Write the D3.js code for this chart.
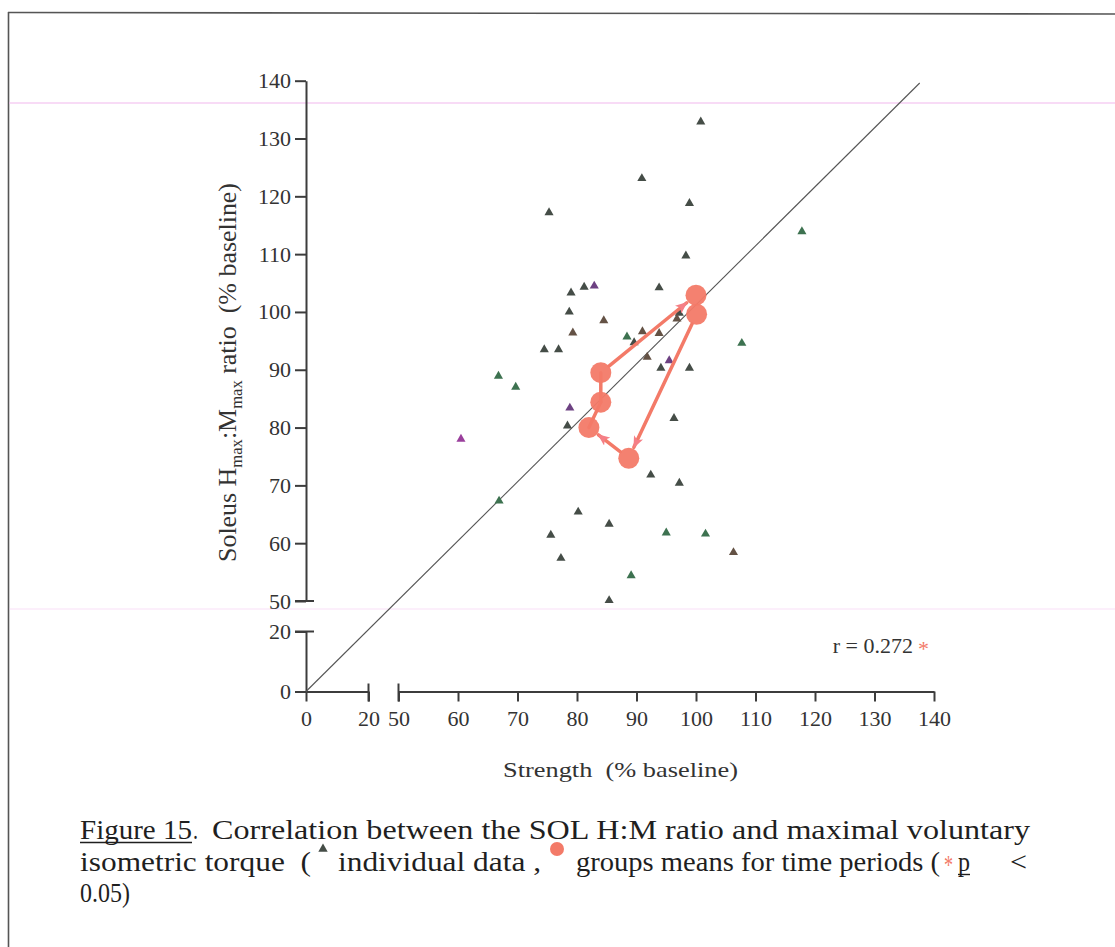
<!DOCTYPE html>
<html><head><meta charset="utf-8">
<script src="https://cdn.jsdelivr.net/npm/d3@7"></script>
<style>
html,body{margin:0;padding:0;background:#fff;}
svg{display:block;}
</style>
</head><body>
<svg id="chart" width="1115" height="947"></svg>
<script>
// Individual subjects: strength and soleus Hmax:Mmax ratio, both as % of baseline
const strength = [90.9, 98.9, 75.3, 117.8, 98.3, 79.0, 81.2, 82.9, 93.8, 78.7,
                  84.5, 97.2, 96.8, 79.3, 88.4, 91.0, 93.8, 89.6, 107.7, 74.5,
                  76.9, 91.8, 95.5, 94.1, 98.9, 66.8, 69.7, 78.8, 96.3, 78.4,
                  60.5, 92.4, 97.2, 66.9, 80.2, 85.4, 75.6, 95.0, 101.6, 106.3,
                  77.3, 89.1, 85.4, 100.8];
const ratio = [123.1, 118.8, 117.2, 113.9, 109.7, 103.3, 104.3, 104.5, 104.2, 100.0,
               98.5, 99.8, 98.8, 96.4, 95.7, 96.6, 96.3, 94.7, 94.6, 93.5,
               93.5, 92.2, 91.6, 90.3, 90.3, 88.9, 87.0, 83.4, 81.6, 80.3,
               78.0, 71.8, 70.4, 67.3, 65.4, 63.3, 61.4, 61.8, 61.6, 58.4,
               57.4, 54.4, 50.1, 132.9];
const cohort = ["A","A","A","B","A","A","A","C","A","A",
                "D","A","D","D","B","D","D","A","B","A",
                "A","D","C","A","A","B","B","C","A","A",
                "E","A","A","B","A","A","A","B","B","D",
                "A","B","A","A"];

// Group means for successive time periods (in order)
const meanStrength = [100.1, 88.7, 82.0, 84.0, 84.0, 100.0];
const meanRatio    = [99.6, 74.7, 80.0, 84.4, 89.5, 102.9];
const stepShowsDirection = [true, true, false, false, true];

// Line of identity, drawn from the origin
const identityFrom = [0, 0];
const identityTo   = [137.6, 139.6];

// Broken axes: lower and upper segments
const xLowTicks  = [0, 20];
const xHighTicks = [50, 60, 70, 80, 90, 100, 110, 120, 130, 140];
const yLowTicks  = [0, 20];
const yHighTicks = [50, 60, 70, 80, 90, 100, 110, 120, 130, 140];
const correlation = "r = 0.272";

const svg = d3.select("#chart");
const serif = "Liberation Serif, Times New Roman, serif";
const ink = "#333";
const coral = "#f37a68";

const x = d3.scaleLinear().domain([0, 20, 50, 140]).range([306, 368.5, 398.5, 934]);
const y = d3.scaleLinear().domain([0, 20, 50, 140]).range([691.5, 631.5, 601, 80.7]);
const xLow  = d3.scaleLinear().domain([0, 20]).range([x(0), x(20)]);
const xHigh = d3.scaleLinear().domain([50, 140]).range([x(50), x(140)]);
const yLow  = d3.scaleLinear().domain([0, 20]).range([y(0), y(20)]);
const yHigh = d3.scaleLinear().domain([50, 140]).range([y(50), y(140)]);

const color = d3.scaleOrdinal()
  .domain(["A", "B", "C", "D", "E"])
  .range(["#454d47", "#3d7250", "#6d4182", "#645245", "#9a3f9c"]);

// page frame
svg.append("line").attr("x1", 8).attr("y1", 12.5).attr("x2", 1115).attr("y2", 14)
  .attr("stroke", "#555").attr("stroke-width", 1.6);
svg.append("line").attr("x1", 8.5).attr("y1", 12).attr("x2", 8.5).attr("y2", 947)
  .attr("stroke", "#555").attr("stroke-width", 1.6);
// faint tinted rules of the page
[[103, 0.5], [609, 0.22]].forEach(([yy, o]) => {
  svg.append("line").attr("x1", 9).attr("x2", 1115).attr("y1", yy).attr("y2", yy)
    .attr("stroke", "#f2b8ee").attr("stroke-width", 2).attr("opacity", o);
});

function styleAxis(g) {
  g.selectAll("path, line").attr("stroke", "#3c3c3c").attr("stroke-width", 2);
  g.selectAll("text").attr("font-family", serif).attr("font-size", 22).attr("fill", ink);
}

// x axis segments
const gxl = svg.append("g").attr("transform", `translate(0,${y(0)})`)
  .call(d3.axisBottom(xLow).tickValues(xLowTicks).tickSize(10).tickSizeOuter(0).tickPadding(9));
const gxh = svg.append("g").attr("transform", `translate(0,${y(0)})`)
  .call(d3.axisBottom(xHigh).tickValues(xHighTicks).tickSize(10).tickSizeOuter(0).tickPadding(9));
[gxl, gxh].forEach(styleAxis);
// break caps on the x axis
[20, 50].forEach(v => {
  svg.append("line").attr("x1", x(v)).attr("x2", x(v)).attr("y1", y(0) - 8).attr("y2", y(0) + 10)
    .attr("stroke", "#3c3c3c").attr("stroke-width", 2);
});

// y axis segments
const gyl = svg.append("g").attr("transform", `translate(${x(0)},0)`)
  .call(d3.axisLeft(yLow).tickValues(yLowTicks).tickSize(11).tickSizeOuter(0).tickPadding(4));
const gyh = svg.append("g").attr("transform", `translate(${x(0)},0)`)
  .call(d3.axisLeft(yHigh).tickValues(yHighTicks).tickSize(11).tickSizeOuter(0).tickPadding(4));
[gyl, gyh].forEach(styleAxis);
// break caps on the y axis
[20, 50].forEach(v => {
  svg.append("line").attr("x1", x(0) - 11).attr("x2", x(0) + 8).attr("y1", y(v)).attr("y2", y(v))
    .attr("stroke", "#3c3c3c").attr("stroke-width", 2);
});

// axis titles
svg.append("text")
  .attr("x", 503).attr("y", 776.5)
  .attr("font-family", serif).attr("font-size", 21).attr("fill", ink)
  .attr("textLength", 235).attr("lengthAdjust", "spacingAndGlyphs")
  .attr("xml:space", "preserve")
  .text("Strength  (% baseline)");

const yTitle = svg.append("text")
  .attr("transform", "translate(236,562) rotate(-90)")
  .attr("font-family", serif).attr("font-size", 25).attr("fill", ink)
  .attr("xml:space", "preserve");
yTitle.append("tspan").text("Soleus H");
yTitle.append("tspan").attr("font-size", 16).attr("dy", 6).text("max");
yTitle.append("tspan").attr("dy", -6).text(":M");
yTitle.append("tspan").attr("font-size", 16).attr("dy", 6).text("max");
yTitle.append("tspan").attr("dy", -6).text(" ratio  (% baseline)");
yTitle.attr("textLength", 379).attr("lengthAdjust", "spacingAndGlyphs");

// identity line
svg.append("line")
  .attr("x1", x(identityFrom[0])).attr("y1", y(identityFrom[1]))
  .attr("x2", x(identityTo[0])).attr("y2", y(identityTo[1]))
  .attr("stroke", "#555").attr("stroke-width", 1.1);

// individual data
const tri = d3.symbol().type(d3.symbolTriangle).size(36);
svg.append("g").selectAll("path")
  .data(strength.map((s, i) => ({ s, r: ratio[i], c: cohort[i] })))
  .join("path")
  .attr("d", tri)
  .attr("transform", d => `translate(${x(d.s)},${y(d.r)})`)
  .attr("fill", d => color(d.c));

// group means with direction of change
const defs = svg.append("defs");
defs.append("marker").attr("id", "head")
  .attr("viewBox", "0 0 12 10").attr("refX", 11).attr("refY", 5)
  .attr("markerWidth", 12).attr("markerHeight", 10)
  .attr("markerUnits", "userSpaceOnUse").attr("orient", "auto")
  .append("path").attr("d", "M0,0 L12,5 L0,10 L3,5 Z").attr("fill", "#f57f86");

const R = 10.5;
const means = meanStrength.map((s, i) => ({ px: x(s), py: y(meanRatio[i]) }));
const steps = svg.append("g");
for (let i = 0; i < means.length - 1; i++) {
  const a = means[i], b = means[i + 1];
  const dx = b.px - a.px, dy = b.py - a.py, len = Math.hypot(dx, dy);
  const ux = dx / len, uy = dy / len;
  const arrow = stepShowsDirection[i];
  const endOff = arrow ? R + 1.5 : 0;
  steps.append("line")
    .attr("x1", a.px + ux * (arrow ? R : 0)).attr("y1", a.py + uy * (arrow ? R : 0))
    .attr("x2", b.px - ux * endOff).attr("y2", b.py - uy * endOff)
    .attr("stroke", coral).attr("stroke-width", 3.5).attr("stroke-linecap", "round")
    .attr("marker-end", arrow ? "url(#head)" : null);
}
svg.append("g").selectAll("circle").data(means).join("circle")
  .attr("cx", d => d.px).attr("cy", d => d.py).attr("r", R)
  .attr("fill", coral).attr("fill-opacity", 0.95);

// correlation note
svg.append("text").attr("x", 913).attr("y", 653).attr("text-anchor", "end")
  .attr("font-family", serif).attr("font-size", 22).attr("fill", ink)
  .text(correlation);
svg.append("text").attr("x", 918).attr("y", 656)
  .attr("font-family", serif).attr("font-size", 22).attr("fill", coral).text("*");

// caption
function piece(text, x0, x1, yb, opts = {}) {
  const t = svg.append("text").attr("x", x0).attr("y", yb)
    .attr("font-family", serif).attr("font-size", 27)
    .attr("fill", opts.fill || "#1f1f1f")
    .attr("xml:space", "preserve")
    .attr("textLength", x1 - x0).attr("lengthAdjust", "spacingAndGlyphs")
    .text(text);
  if (opts.underline) {
    svg.append("line").attr("x1", x0).attr("x2", x1).attr("y1", yb + 3.5).attr("y2", yb + 3.5)
      .attr("stroke", "#1f1f1f").attr("stroke-width", 1.4);
  }
  return t;
}
piece("Figure 15", 80, 192, 839, { underline: true });
piece(".", 193, 198, 839);
piece("Correlation between the SOL H:M ratio and maximal voluntary", 212, 1030, 839);
piece("isometric torque  (", 80, 311, 871);
svg.append("path").attr("d", d3.symbol().type(d3.symbolTriangle).size(38))
  .attr("transform", "translate(323,849)").attr("fill", color("A"));
piece("individual data ,", 338, 541, 871);
svg.append("circle").attr("cx", 557).attr("cy", 849).attr("r", 7).attr("fill", coral);
piece("groups means for time periods (", 576, 940, 871);
piece("*", 944, 953, 874, { fill: coral });
piece("p", 958, 970, 871, { underline: true });
piece("<", 1010, 1027, 871);
piece("0.05)", 80, 130, 902);
</script>
</body></html>
